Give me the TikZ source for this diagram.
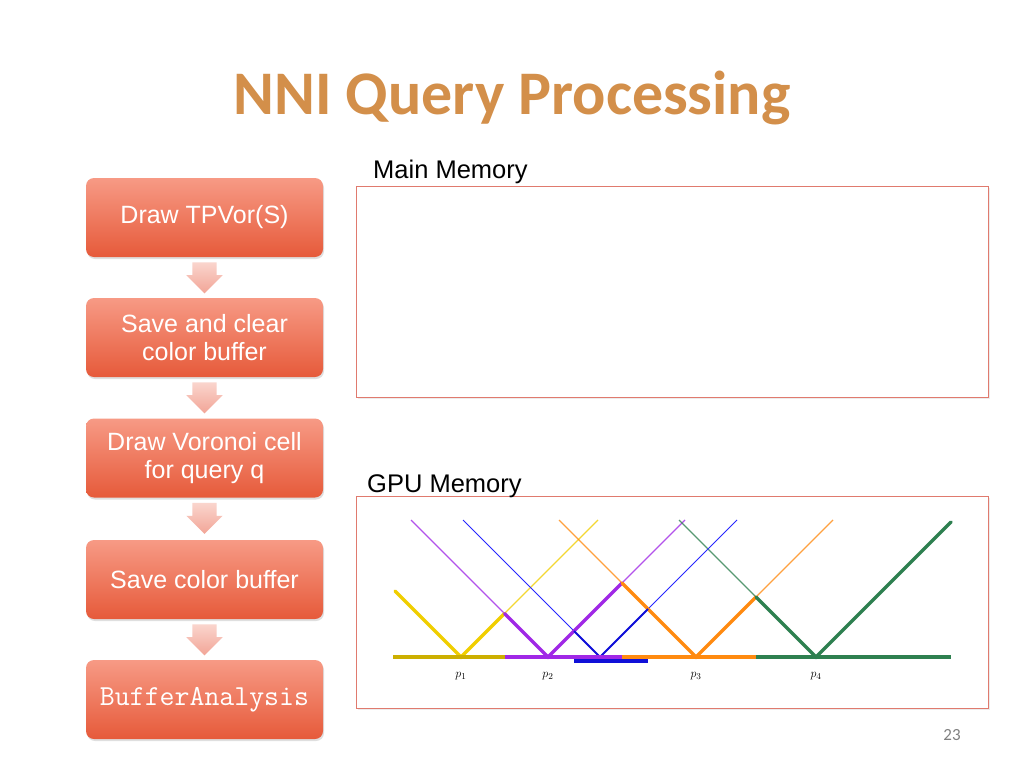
\documentclass[tikz,border=0pt]{standalone}
\usepackage[no-math]{fontspec}
\usepackage{amsmath}
\usetikzlibrary{calc,shadows,shapes.arrows,positioning}
\newfontfamily\titlefont{Carlito}
\newfontfamily\boxfont{Liberation Sans}
\definecolor{titlebrown}{HTML}{D38F4A}
\definecolor{boxtop}{HTML}{F79A85}
\definecolor{boxbottom}{HTML}{E65A3A}
\definecolor{arrowtop}{HTML}{FAD5CD}
\definecolor{arrowbottom}{HTML}{F2A597}
\definecolor{memred}{HTML}{E07A6E}
\definecolor{yellowp}{HTML}{F0CE00}
\definecolor{purplep}{HTML}{A028E6}
\definecolor{bluep}{HTML}{1010D8}
\definecolor{orangep}{HTML}{FF8A10}
\definecolor{greenp}{HTML}{2E8050}
\tikzset{
  stepbox/.style={rounded corners=8pt, minimum width=237pt, minimum height=79pt,
    top color=boxtop, bottom color=boxbottom, draw=none, text=white, align=center,
    font=\boxfont\fontsize{25}{28}\selectfont,
    drop shadow={opacity=0.25, shadow xshift=1pt, shadow yshift=-2pt}},
  downarrow/.style={single arrow, shape border rotate=270, minimum height=31pt,
    minimum width=36pt, single arrow head extend=6pt, inner xsep=12pt, inner ysep=0pt,
    top color=arrowtop, bottom color=arrowbottom, draw=none, anchor=tail},
  membox/.style={draw=memred, line width=0.8pt, fill=white, minimum width=632pt,
    drop shadow={opacity=0.15, shadow xshift=2pt, shadow yshift=-2pt}},
  memlabel/.style={font=\boxfont\fontsize{25.5}{28}\selectfont, anchor=base west, inner sep=0pt},
  thinarm/.style={line width=1.2pt, opacity=0.8},
  thickarm/.style={line width=3.5pt, line cap=round},
  base/.style={line width=4pt}
}
\begin{document}
\begin{tikzpicture}[x=1pt,y=-1pt]
  \useasboundingbox[fill=white] (0,0) rectangle (1024,768);

  \node[font=\titlefont\bfseries\fontsize{62}{70}\selectfont, text=titlebrown] (title) at (512,98) {NNI Query Processing};

  % steps
  \node[stepbox] (tpvor) at (204.5,217.5) {Draw TPVor(S)};
  \node[stepbox] (saveclear) at (204.5,337.5) {Save and clear\\color buffer};
  \node[stepbox] (voronoi) at (204.5,458) {Draw Voronoi cell\\for query q};
  \node[stepbox] (savebuf) at (204.5,579.5) {Save color buffer};
  \node[stepbox, font=\ttfamily\fontsize{29}{32}\selectfont] (analysis) at (204.5,699.5) {BufferAnalysis};
  \foreach \a/\b in {tpvor/saveclear, saveclear/voronoi, voronoi/savebuf, savebuf/analysis}
    \node[downarrow] (arr\a) at ($(\a.south)!0.12!(\b.north)$) {};

  % memories
  \node[membox, minimum height=211pt] (mainmem) at (672,291.5) {};
  \node[membox, minimum height=212pt] (gpumem) at (672,602) {};
  \node[memlabel] (mainlabel) at (373,178) {Main Memory};
  \node[memlabel] (gpulabel) at (367,492) {GPU Memory};

  % distance cones
  \foreach \xl/\yl/\x/\xr/\yr/\c in {395/591/461/598/520/yellowp, 411/520/548/685/520/purplep,
      679/520/816/951/522/greenp, 559/520/696/833/520/orangep}
    \draw[thinarm, \c] (\xl,\yl) -- (\x,657) -- (\xr,\yr);
  \draw[line width=0.9pt, blue!85!white] (463,520) -- (600,657) -- (737,520);

  \draw[thickarm, yellowp] (395,591) -- (461,657) -- (504.5,613.5);
  \draw[thickarm, purplep] (504.5,613.5) -- (548,657) -- (622,583);
  \draw[thickarm, orangep] (622,583) -- (696,657) -- (756,597);
  \draw[thickarm, greenp] (756,597) -- (816,657) -- (951,522);
  \draw[line width=2pt, bluep] (574,631) -- (600,657) -- (648,609);

  % lower envelope
  \draw[base, yellowp!85!black] (393,657) -- (504.5,657);
  \draw[base, purplep] (504.5,657) -- (622,657);
  \draw[base, orangep] (622,657) -- (756,657);
  \draw[base, greenp] (756,657) -- (951,657);
  \draw[line width=3.5pt, bluep] (574,661) -- (648,661);

  \foreach \x/\i in {461/1, 548/2, 696/3, 816/4}
    \node[font=\fontsize{13}{15}\selectfont] (p\i) at (\x,676) {$p_{\i}$};

  \node[font=\titlefont\fontsize{17}{20}\selectfont, text=gray] (pagenum) at (952,735) {23};
\end{tikzpicture}
\end{document}
